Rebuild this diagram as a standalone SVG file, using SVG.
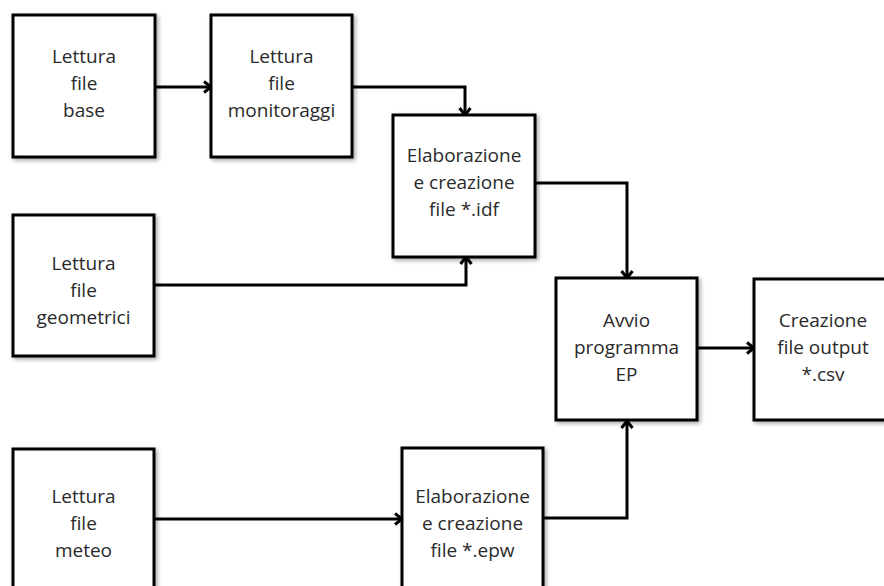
<svg xmlns="http://www.w3.org/2000/svg" width="884" height="586" viewBox="0 0 884 586">
<defs>
<filter id="sh" x="-10%" y="-10%" width="125%" height="125%">
<feGaussianBlur in="SourceAlpha" stdDeviation="2"/>
<feOffset dx="1.5" dy="1.5" result="b"/>
<feComponentTransfer><feFuncA type="linear" slope="0.35"/></feComponentTransfer>
<feMerge><feMergeNode/><feMergeNode in="SourceGraphic"/></feMerge>
</filter>
<marker id="ah" markerUnits="userSpaceOnUse" markerWidth="14" markerHeight="14" viewBox="0 0 14 14" refX="12" refY="7" orient="auto">
<path d="M5,1.5 L12,7 L5,12.5" fill="none" stroke="#000" stroke-width="3" stroke-linejoin="miter"/>
</marker>
</defs>
<style>
.box{fill:#fff;stroke:#000;stroke-width:3;filter:url(#sh)}
.t{font-family:"Open Sans","Noto Sans",sans-serif;font-size:19px;fill:#2a2a2a;text-anchor:middle}
.c{fill:none;stroke:#000;stroke-width:3;marker-end:url(#ah)}
</style>
<rect width="884" height="586" fill="#fff"/>
<g id="connectors">
<path class="c" d="M155,87 H211"/>
<path class="c" d="M352,87 H465 V115"/>
<path class="c" d="M155,285 H466 V257"/>
<path class="c" d="M535,183 H627 V278"/>
<path class="c" d="M697,348 H754"/>
<path class="c" d="M154,519 H402"/>
<path class="c" d="M543,518 H627 V421"/>
</g>
<g id="base">
<rect class="box" x="13" y="15" width="142" height="142"/>
<text class="t" x="84" y="63">Lettura</text><text class="t" x="84" y="90">file</text><text class="t" x="84" y="117">base</text>
</g>
<g id="monitoraggi">
<rect class="box" x="211" y="15" width="141" height="142"/>
<text class="t" x="281.5" y="63">Lettura</text><text class="t" x="281.5" y="90">file</text><text class="t" x="281.5" y="117">monitoraggi</text>
</g>
<g id="idf">
<rect class="box" x="393" y="115" width="142" height="142"/>
<text class="t" x="464" y="162">Elaborazione</text><text class="t" x="464" y="189">e creazione</text><text class="t" x="464" y="216">file *.idf</text>
</g>
<g id="geometrici">
<rect class="box" x="13" y="215" width="141" height="141"/>
<text class="t" x="83.5" y="270">Lettura</text><text class="t" x="83.5" y="297">file</text><text class="t" x="83.5" y="324">geometrici</text>
</g>
<g id="ep">
<rect class="box" x="556" y="278" width="141" height="142"/>
<text class="t" x="626.5" y="327">Avvio</text><text class="t" x="626.5" y="354">programma</text><text class="t" x="626.5" y="381">EP</text>
</g>
<g id="csv">
<rect class="box" x="754" y="279" width="141" height="141"/>
<text class="t" x="823" y="327">Creazione</text><text class="t" x="823" y="354">file output</text><text class="t" x="823" y="381">*.csv</text>
</g>
<g id="meteo">
<rect class="box" x="13" y="449" width="141" height="142"/>
<text class="t" x="83.5" y="503">Lettura</text><text class="t" x="83.5" y="530">file</text><text class="t" x="83.5" y="557">meteo</text>
</g>
<g id="epw">
<rect class="box" x="402" y="448" width="141" height="142"/>
<text class="t" x="472.5" y="503">Elaborazione</text><text class="t" x="472.5" y="530">e creazione</text><text class="t" x="472.5" y="557">file *.epw</text>
</g>
</svg>
